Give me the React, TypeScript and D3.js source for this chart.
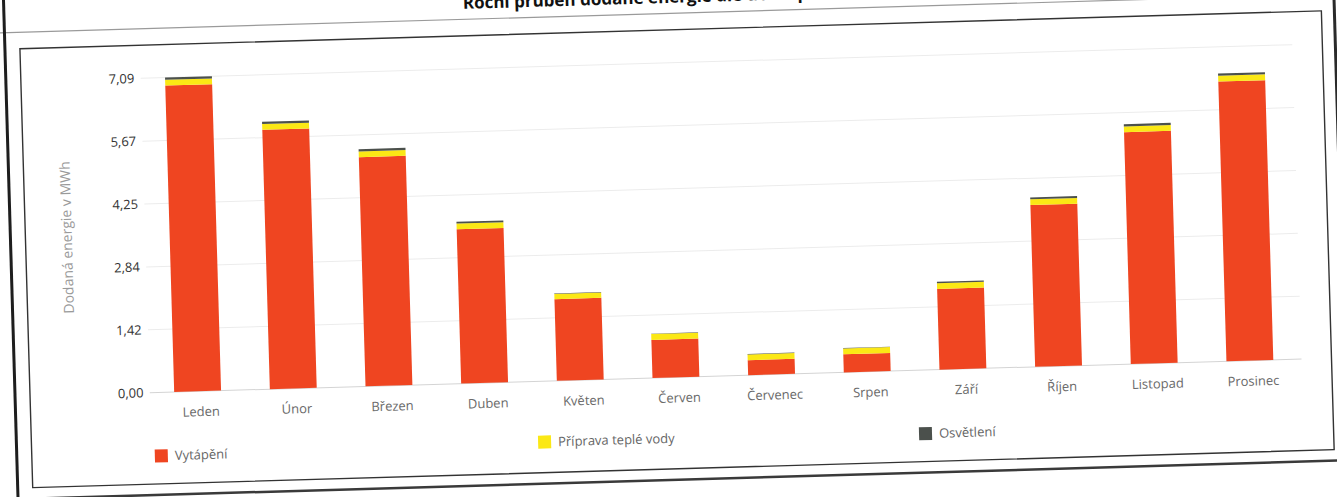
import React from 'react';
import * as d3 from 'd3';

const categories = ['Leden', 'Únor', 'Březen', 'Duben', 'Květen', 'Červen', 'Červenec', 'Srpen', 'Září', 'Říjen', 'Listopad', 'Prosinec'];
const heating = [6.91, 5.85, 5.17, 3.48, 1.84, 0.86, 0.34, 0.41, 1.82, 3.65, 5.23, 6.31];
const hotWater = [0.13, 0.13, 0.13, 0.13, 0.12, 0.13, 0.13, 0.13, 0.13, 0.13, 0.13, 0.13];
const lighting = [0.05, 0.05, 0.05, 0.04, 0.01, 0.01, 0.01, 0.01, 0.03, 0.04, 0.05, 0.05];
const seriesNames = ['Vytápění', 'Příprava teplé vody', 'Osvětlení'];
const seriesColors = ['#ef4521', '#fbe815', '#4b504c'];
const title = 'Roční průběh dodané energie dle účelu použití';
const yTitle = 'Dodaná energie v MWh';

const W = 1337;
const H = 497;
const FONT = '"Open Sans", "Noto Sans", sans-serif';

export default function App() {
  const rows = categories.map((c, i) => ({ cat: c, h: heating[i], w: hotWater[i], l: lighting[i] }));
  const stack = d3.stack<any>().keys(['h', 'w', 'l'])(rows);
  const maxTotal = d3.max(rows, (r) => r.h + r.w + r.l) as number;

  const x = d3.scaleBand().domain(categories).range([145.8, 1294.2]).paddingInner(0.51).paddingOuter(0.255);
  const y = d3.scaleLinear().domain([0, maxTotal]).range([377.5, 63]);
  const ticks = d3.range(6).map((i) => (maxTotal * i) / 5);
  const fmt = (v: number) => v.toFixed(2).replace('.', ',');

  const legend = [
    { name: seriesNames[0], color: seriesColors[0], x: 149, y: 441 },
    { name: seriesNames[1], color: seriesColors[1], x: 532.5, y: 438.3 },
    { name: seriesNames[2], color: seriesColors[2], x: 913.5, y: 441 },
  ];

  return (
    <svg width={W} height={H} style={{ position: 'absolute', left: 0, top: 0, background: '#fff' }}>
      <rect x={0} y={0} width={W} height={H} fill="#fff" />
      <g transform="rotate(-1.67 668 248)">
        {/* title */}
        <text x={470} y={3} fontFamily={FONT} fontWeight={700} fontSize={17} fill="#111">{title}</text>
        {/* outer lines */}
        <line x1={-20} x2={1360} y1={13.5} y2={13.5} stroke="#9a9a9a" strokeWidth={1.2} />
        <line x1={11} x2={11} y1={-40} y2={540} stroke="#1e1e1e" strokeWidth={3} />
        <line x1={1341} x2={1341} y1={-40} y2={540} stroke="#2a2a2a" strokeWidth={3} />
        <line x1={-20} x2={1360} y1={480} y2={480} stroke="#3a3a3a" strokeWidth={2.5} />
        {/* inner frame */}
        <rect x={26} y={30} width={1302} height={439} fill="#fff" stroke="#333" strokeWidth={1.4} />

        {/* grid */}
        {ticks.map((t, i) => (
          <line key={'g' + i} x1={145.8} x2={1298} y1={y(t)} y2={y(t)} stroke={i === 0 ? '#d4d4d4' : '#ececec'} strokeWidth={1} />
        ))}
        {/* y tick labels */}
        {ticks.map((t, i) => (
          <text key={'t' + i} x={139.5} y={y(t)} dy="0.35em" textAnchor="end" fontFamily={FONT} fontSize={13} fill="#333">
            {fmt(t)}
          </text>
        ))}
        {/* y title */}
        <text transform={`translate(67.5,220) rotate(-90)`} textAnchor="middle" dy="0.35em" fontFamily={FONT} fontSize={14} fill="#9a9a9a">
          {yTitle}
        </text>

        {/* bars */}
        {stack.map((s, si) => (
          <g key={'s' + si} fill={seriesColors[si]}>
            {s.map((d: any, i: number) => (
              <rect key={i} x={x(categories[i])} width={x.bandwidth()} y={y(d[1])} height={Math.max(0, y(d[0]) - y(d[1]))} />
            ))}
          </g>
        ))}

        {/* x labels */}
        {categories.map((c) => (
          <text key={c} x={(x(c) as number) + x.bandwidth() / 2 + 3} y={398} dy="0.35em" textAnchor="middle" fontFamily={FONT} fontSize={13} fill="#6a6a6a">
            {c}
          </text>
        ))}

        {/* legend */}
        {legend.map((l) => (
          <g key={l.name}>
            <rect x={l.x} y={l.y - 6.5} width={13} height={13} fill={l.color} />
            <text x={l.x + 20} y={l.y} dy="0.35em" fontFamily={FONT} fontSize={13} fill="#666">{l.name}</text>
          </g>
        ))}
      </g>
    </svg>
  );
}
